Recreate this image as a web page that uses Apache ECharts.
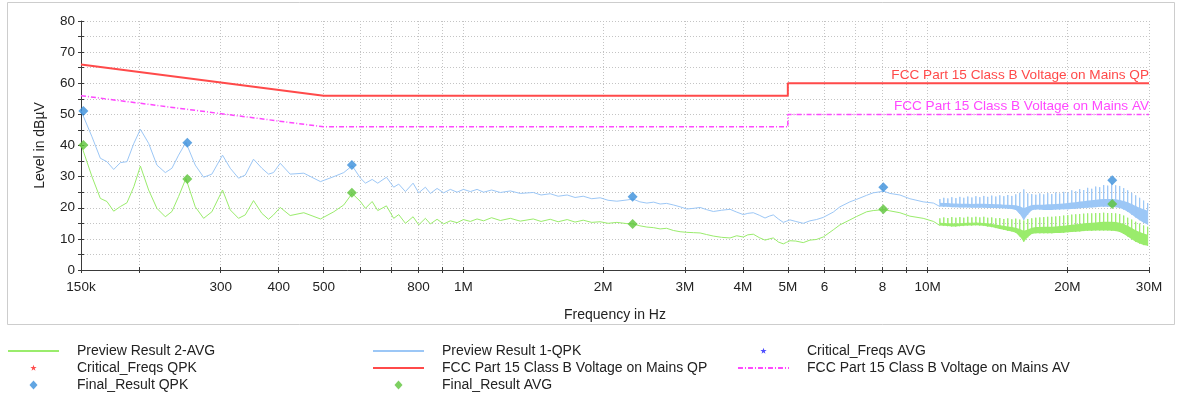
<!DOCTYPE html>
<html><head><meta charset="utf-8">
<script src="https://cdn.jsdelivr.net/npm/echarts@6/dist/echarts.min.js"></script>
<style>html,body{margin:0;padding:0;background:#fff}#c{width:1177px;height:396px}</style>
</head><body><div id="c"></div>
<script>
// ---------- DATA (frequency in MHz, level in dBµV) ----------
const sweepFreq = [0.150,0.1584,0.1651,0.1706,0.1764,0.1824,0.1884,0.1950,0.2014,0.2098,0.2186,0.2279,0.2355,0.2434,0.2524,0.2644,0.2756,0.2871,0.3027,0.3145,0.3277,0.3388,0.3530,0.3679,0.3803,0.3898,0.4030,0.4234,0.4530,0.4921,0.5257,0.5524,0.5758,0.6000,0.6151,0.6359,0.6538,0.6826,0.7077,0.7255,0.7500,0.7791,0.8011,0.8281,0.8489,0.8775,0.9067,0.9373,0.9690,1.0000,1.0351,1.0700,1.1055,1.1500,1.2014,1.2624,1.3258,1.4141,1.4700,1.5384,1.6000,1.6735,1.7400,1.8118,1.8900,1.9710,2.0500,2.1407,2.2506,2.3184,2.4000,2.4842,2.5700,2.6534,2.7400,2.8337,2.9300,3.0293,3.1300,3.2357,3.3400,3.4562,3.6000,3.7544,3.8800,4.0097,4.1000,4.2134,4.3400,4.4654,4.5600,4.6529,4.7700,4.8890,4.9700,5.0541,5.2000,5.3980,5.5800,5.7600,5.9600,6.2640,6.4750,6.8040,7.0350,7.3920,7.6380,8.0540,8.2970,8.7180,9.1610,9.7860,10.300];
const qpkSweep = [51.2,42.8,35.9,34.8,32.3,34.5,34.8,40.7,45.2,40.7,33.7,31.3,32.7,36.9,41.0,33.7,29.8,30.8,36.9,32.7,29.5,30.5,35.6,32.7,30.8,31.3,34.3,30.8,31.1,28.4,30.0,31.3,33.5,29.5,27.9,29.1,27.9,29.8,26.6,27.6,25.2,27.9,24.8,26.6,24.6,26.2,24.8,25.9,25.0,25.9,25.2,25.9,25.0,25.7,24.9,25.4,24.6,24.9,24.1,24.5,23.7,24.1,23.3,23.7,22.9,23.2,22.4,22.1,22.5,22.8,21.9,21.5,21.8,21.2,21.4,20.9,20.3,19.6,19.8,20.1,19.4,18.8,19.2,19.5,18.6,17.8,18.2,18.4,17.6,16.7,17.3,17.7,16.4,15.3,15.7,16.1,15.6,15.0,15.8,16.2,16.9,18.6,20.3,21.9,22.7,24.0,24.8,25.3,24.6,24.1,22.9,21.9,21.5];
const avgSweep = [40.4,30.0,23.0,22.0,18.9,20.4,21.6,26.8,33.4,25.7,19.8,17.1,18.8,23.6,29.4,20.3,16.6,18.7,25.7,19.3,16.6,17.7,22.3,18.2,16.3,17.7,20.1,17.5,18.4,16.4,18.7,20.9,24.6,22.0,19.8,22.0,19.1,20.6,16.6,17.8,15.0,17.1,14.5,16.6,14.8,16.3,14.8,15.8,15.2,16.2,15.6,16.4,15.8,16.8,15.9,16.6,15.7,16.4,15.6,16.3,15.5,16.2,15.4,16.0,15.3,15.5,15.0,15.3,14.9,14.8,14.2,13.8,13.6,13.2,13.4,12.7,12.3,12.1,12.0,11.9,11.4,10.9,10.5,10.3,11.0,10.6,11.3,11.5,10.4,9.6,10.0,10.3,9.0,8.4,8.9,9.4,9.3,8.8,9.6,9.8,10.6,12.9,14.5,16.1,17.2,18.7,19.1,19.4,19.0,18.4,17.3,16.6,15.6];

// dense harmonic band above 10 MHz: per frequency the trace floor, body top and spike top
const bandFreq = [10.63,10.84,11.06,11.28,11.51,11.74,11.97,12.21,12.46,12.71,12.96,13.22,13.48,13.75,14.03,14.31,14.60,14.89,15.19,15.49,15.80,16.12,16.44,16.77,17.11,17.45,17.80,18.15,18.52,18.89,19.26,19.65,20.05,20.45,20.86,21.27,21.70,22.13,22.58,23.03,23.49,23.96,24.44,24.93,25.43,25.94,26.46,26.99,27.53,28.08,28.64,29.21,29.80];
const qpkBandLow = [20.4,20.3,20.3,20.2,20.2,20.1,20.1,20.1,20.0,20.0,20.0,20.0,19.9,19.9,19.9,19.8,19.8,19.7,19.6,19.3,18.0,16.1,17.8,19.2,19.4,19.4,19.3,19.3,19.3,19.4,19.4,19.5,19.5,19.6,19.7,19.8,19.9,20.0,20.1,20.2,20.3,20.3,20.3,20.3,20.2,19.9,19.4,18.7,17.8,16.9,16.0,15.2,14.6];
const qpkBandTop = [21.6,21.5,21.5,21.4,21.4,21.3,21.3,21.3,21.2,21.3,21.3,21.3,21.2,21.2,21.1,21.1,21.0,21.0,20.9,20.8,20.5,19.8,20.4,20.9,21.0,21.0,21.0,21.1,21.1,21.2,21.3,21.4,21.5,21.7,21.8,22.0,22.1,22.3,22.4,22.6,22.7,22.8,22.8,22.8,22.7,22.5,22.2,21.8,21.2,20.6,20.0,19.5,19.0];
const qpkBandSpike = [22.8,23.2,23.0,23.4,23.1,23.5,23.2,23.6,23.3,23.7,23.4,23.8,23.5,23.9,23.6,24.0,23.7,24.1,23.8,24.3,24.8,25.9,24.6,24.4,24.2,24.6,24.3,24.7,24.4,24.9,24.6,25.1,24.9,25.6,25.3,26.0,25.7,26.4,26.1,26.8,26.6,27.3,27.1,27.9,27.2,27.0,26.3,25.6,24.8,24.0,23.2,22.3,21.5];
const avgBandLow = [14.3,14.2,14.1,14.0,14.0,14.1,14.2,14.3,14.3,14.4,14.3,14.2,14.0,13.8,13.5,13.2,12.9,12.6,12.4,12.0,10.8,9.1,10.5,11.6,11.8,11.8,11.8,11.8,11.8,11.9,11.9,12.0,12.1,12.2,12.3,12.4,12.5,12.6,12.6,12.7,12.7,12.7,12.7,12.6,12.5,12.2,11.6,10.8,9.9,9.1,8.5,8.0,7.8];
const avgBandTop = [15.2,15.1,15.0,15.0,14.9,15.0,15.1,15.2,15.2,15.3,15.2,15.1,15.0,14.8,14.6,14.4,14.2,14.0,13.8,13.6,13.2,12.6,13.0,13.6,13.8,13.8,13.9,13.9,13.9,14.0,14.1,14.2,14.4,14.5,14.7,14.8,15.0,15.1,15.2,15.3,15.4,15.5,15.5,15.5,15.4,15.2,14.8,14.2,13.5,12.8,12.2,11.7,11.3];
const avgBandSpike = [16.6,16.9,16.7,17.0,16.8,17.0,16.8,17.1,16.9,17.1,16.9,17.1,16.8,16.9,16.6,16.7,16.4,16.6,16.3,16.5,16.2,15.9,16.4,16.6,16.8,16.9,17.0,17.1,17.1,17.2,17.3,17.5,17.6,17.8,17.9,18.0,18.1,18.2,18.2,18.3,18.3,18.4,18.3,18.3,18.2,18.0,17.5,16.8,16.2,15.5,14.9,14.3,13.9];

const finalFreq = [0.1518,0.2542,0.575,2.315,8.03,25.0];
const finalQpk = [51.1,40.9,33.7,23.5,26.6,28.8];
const finalAvg = [40.2,29.2,24.8,14.8,19.5,21.2];

const limitFreq = [0.15,0.5,5,5,30];
const limitQP = [66,56,56,60,60];
const limitAV = [56,46,46,50,50];

const xTickValues = [0.15,0.2,0.3,0.4,0.5,0.6,0.7,0.8,0.9,1,2,3,4,5,6,7,8,9,10,20,30];
const xLabelValues = [0.15,0.3,0.4,0.5,0.8,1,2,3,4,5,6,8,10,20,30];
const xLabelText = ['150k','300','400','500','800','1M','2M','3M','4M','5M','6','8','10M','20M','30M'];

const NAME_AVG = 'Preview Result 2-AVG', NAME_QPK = 'Preview Result 1-QPK';
const NAME_QP = 'FCC Part 15 Class B Voltage on Mains QP', NAME_AV = 'FCC Part 15 Class B Voltage on Mains AV';

// ---------- BUILD ----------
const BLUE = '#9cc7f6', GREEN = '#9aec6c';
function trace(levels, low, top, spike) {
  const d = sweepFreq.map((f, i) => [f, levels[i]]);
  bandFreq.forEach((f, i) => { d.push([f, low[i]], [f, spike[i]], [f, top[i]]); });
  return d;
}
const pairs = (xs, ys) => xs.map((x, i) => [x, ys[i]]);
const FONT = '"Liberation Sans", Arial, sans-serif';
// legend icons: bounding box 51x10 so that they are not stretched
const ICON_DIAMOND = 'path://M0,0M51,10M25.5,0.5L29.5,5L25.5,9.5L21.5,5Z';
const ICON_STAR = 'path://M0,0M51,10M25.5,1.7L26.26,3.95L28.64,3.98L26.74,5.4L27.44,7.67L25.5,6.3L23.56,7.67L24.26,5.4L22.36,3.98L24.74,3.95Z';
const gridLine = {show: true, lineStyle: {color: '#c4c4c4', width: 1, type: [1, 2]}};

function xLabel(v) {
  const i = xLabelValues.findIndex(x => Math.abs(x - v) / x < 1e-6);
  return i >= 0 ? xLabelText[i] : '';
}
// solid body of the harmonic band: one polygon from floor to body top, drawn through the axes
function bandBody(color, low, top, z) {
  return {type: 'custom', silent: true, z: z, clip: true,
    data: bandFreq.map((f, i) => [f, low[i], top[i]]),
    encode: {x: 0, y: [1, 2]},
    renderItem: function (params, api) {
      if (params.dataIndex !== 0) return null;
      const pts = [];
      for (let i = 0; i < bandFreq.length; i++) pts.push(api.coord([bandFreq[i], low[i]]));
      for (let i = bandFreq.length - 1; i >= 0; i--) pts.push(api.coord([bandFreq[i], top[i]]));
      return {type: 'polygon', shape: {points: pts}, style: {fill: color}};
    }};
}
const lineItem = name => ({name: name, itemStyle: {opacity: 0}});
const legendBase = {orient: 'vertical', top: 344, height: 60, padding: 0, itemHeight: 10, itemGap: 3,
  selectedMode: false,
  textStyle: {fontSize: 14, lineHeight: 14, color: '#222', fontFamily: FONT, padding: [0, 0, 0, 13]}};

const option = {
  animation: false,
  backgroundColor: '#fff',
  textStyle: {fontFamily: FONT},
  grid: {left: 81, right: 28, top: 21, bottom: 126, outerBoundsMode: 'none'},
  graphic: [{type: 'rect', silent: true, z: -10, shape: {x: 7.5, y: 2.5, width: 1167, height: 322},
    style: {fill: 'none', stroke: '#cdcdcd', lineWidth: 1}}],
  legend: [
    Object.assign({}, legendBase, {left: 7, itemWidth: 51, data: [lineItem(NAME_AVG),
      {name: 'Critical_Freqs QPK', icon: ICON_STAR}, {name: 'Final_Result QPK', icon: ICON_DIAMOND}]}),
    Object.assign({}, legendBase, {left: 372, itemWidth: 51, data: [lineItem(NAME_QPK), lineItem(NAME_QP),
      {name: 'Final_Result AVG', icon: ICON_DIAMOND}]}),
    Object.assign({}, legendBase, {left: 737, itemWidth: 51, data: [{name: 'Critical_Freqs AVG', icon: ICON_STAR}, lineItem(NAME_AV)]})
  ],
  xAxis: [{
    type: 'log', logBase: 10, min: 0.15, max: 30, position: 'bottom',
    name: 'Frequency in Hz', nameLocation: 'middle', nameGap: 38,
    nameTextStyle: {fontSize: 14, color: '#222', fontFamily: FONT},
    axisLine: {show: true, lineStyle: {color: '#3a3a3a', width: 1}},
    axisTick: {show: true, length: 3, customValues: xTickValues, lineStyle: {color: '#3a3a3a'}},
    axisLabel: {show: true, customValues: xLabelValues, formatter: xLabel, margin: 10, fontSize: 13.5, color: '#222', fontFamily: FONT, hideOverlap: false},
    splitLine: gridLine, minorTick: {show: false}, minorSplitLine: {show: false}
  }, {
    type: 'log', logBase: 10, min: 0.15, max: 30, position: 'bottom',
    axisLine: {show: false},
    axisTick: {show: true, inside: true, length: 3, customValues: xTickValues, lineStyle: {color: '#3a3a3a'}},
    axisLabel: {show: false}, splitLine: {show: false}
  }],
  yAxis: [{
    type: 'value', min: 0, max: 80, interval: 5, position: 'left',
    name: 'Level in dBµV', nameLocation: 'middle', nameGap: 34,
    nameTextStyle: {fontSize: 14, color: '#222', fontFamily: FONT},
    axisLine: {show: true, lineStyle: {color: '#3a3a3a', width: 1}},
    axisTick: {show: true, length: 3, lineStyle: {color: '#3a3a3a'}},
    axisLabel: {formatter: v => (v % 10 === 0 ? String(v) : ''), margin: 6, fontSize: 13.5, color: '#222', fontFamily: FONT},
    splitLine: gridLine
  }, {
    type: 'value', min: 0, max: 80, interval: 5, position: 'left',
    axisLine: {show: false},
    axisTick: {show: true, inside: true, length: 3, lineStyle: {color: '#3a3a3a'}},
    axisLabel: {show: false}, splitLine: {show: false}
  }],
  series: [
    bandBody(BLUE, qpkBandLow, qpkBandTop, 2),
    {name: NAME_QPK, type: 'line', symbol: 'none', silent: true, z: 2,
     lineStyle: {color: BLUE, width: 1}, itemStyle: {color: BLUE},
     data: trace(qpkSweep, qpkBandLow, qpkBandTop, qpkBandSpike)},
    bandBody(GREEN, avgBandLow, avgBandTop, 3),
    {name: NAME_AVG, type: 'line', symbol: 'none', silent: true, z: 3,
     lineStyle: {color: GREEN, width: 1}, itemStyle: {color: GREEN},
     data: trace(avgSweep, avgBandLow, avgBandTop, avgBandSpike)},
    {name: NAME_QP, type: 'line', symbol: 'none', silent: true, z: 4,
     lineStyle: {color: '#ff4a4a', width: 2}, itemStyle: {color: '#ff4a4a'},
     endLabel: {show: true, formatter: p => p.seriesName, color: '#ff4a4a', fontSize: 13.6, fontFamily: FONT,
       align: 'right', verticalAlign: 'bottom', distance: 0, offset: [0, -1]},
     data: pairs(limitFreq, limitQP)},
    {name: NAME_AV, type: 'line', symbol: 'none', silent: true, z: 4,
     lineStyle: {color: '#ff48ff', width: 1.5, type: [5, 2, 1, 2]}, itemStyle: {color: '#ff48ff'},
     endLabel: {show: true, formatter: p => p.seriesName, color: '#ff48ff', fontSize: 13.6, fontFamily: FONT,
       align: 'right', verticalAlign: 'bottom', distance: 0, offset: [0, -1]},
     data: pairs(limitFreq, limitAV)},
    {name: 'Critical_Freqs QPK', type: 'scatter', symbol: 'circle', itemStyle: {color: '#ff2020'}, data: []},
    {name: 'Critical_Freqs AVG', type: 'scatter', symbol: 'circle', itemStyle: {color: '#2020ff'}, data: []},
    {name: 'Final_Result QPK', type: 'scatter', symbol: 'diamond', symbolSize: 10, z: 6, silent: true,
     itemStyle: {color: '#3a8fdb'}, data: pairs(finalFreq, finalQpk)},
    {name: 'Final_Result AVG', type: 'scatter', symbol: 'diamond', symbolSize: 10, z: 6, silent: true,
     itemStyle: {color: '#5cc43a'}, data: pairs(finalFreq, finalAvg)}
  ]
};
echarts.init(document.getElementById('c'), null, {renderer: 'canvas'}).setOption(option);
</script></body></html>
